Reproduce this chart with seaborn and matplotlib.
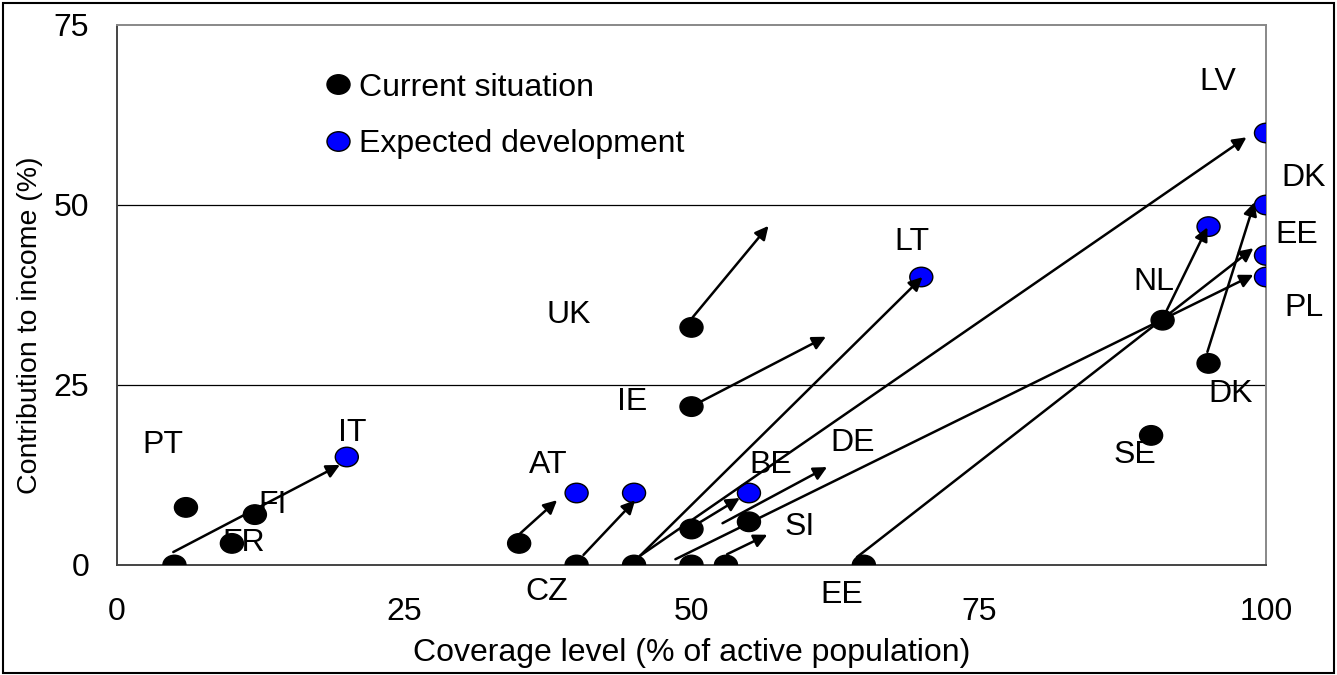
import matplotlib.pyplot as plt
import matplotlib.patches as mpatches
from matplotlib.path import Path
from matplotlib.transforms import Affine2D
import pandas as pd
import seaborn as sns

sns.set_style("white")
plt.rcParams['font.family'] = ['Liberation Sans', 'DejaVu Sans']
plt.rcParams['text.color'] = 'black'
plt.rcParams['axes.labelcolor'] = 'black'
plt.rcParams['xtick.color'] = 'black'
plt.rcParams['ytick.color'] = 'black'

# current situation (black dots)
cur_x = [5, 6, 12, 10, 35, 40, 45, 50, 53, 65, 50, 55, 50, 50, 91, 95, 90]
cur_y = [0, 8, 7, 3, 3, 0, 0, 0, 0, 0, 5, 6, 33, 22, 34, 28, 18]
# expected development (blue dots)
exp_x = [20, 40, 45, 55, 70, 95, 100, 100, 100, 100]
exp_y = [15, 10, 10, 10, 40, 47, 60, 50, 43, 40]

# arrows: start -> end
arr_x0 = [4.9, 35.1, 40.6, 45.5, 45.5, 50.6, 52.7, 48.6, 53.1, 64.4, 50.1, 50.7, 91.0, 94.9]
arr_y0 = [1.8, 4.4, 1.4, 1.25, 1.25, 5.8, 5.8, 0.8, 1.5, 1.1, 34.4, 22.6, 34.2, 29.6]
arr_x1 = [19.4, 38.3, 45.1, 70.1, 98.3, 54.2, 61.8, 98.9, 56.6, 98.9, 56.7, 61.7, 94.9, 99.0]
arr_y1 = [13.9, 9.0, 9.0, 40.0, 59.4, 9.3, 13.6, 40.3, 4.2, 44.0, 47.1, 31.7, 46.9, 50.4]

# country labels
labels = ["PT", "FI", "FR", "IT", "AT", "CZ", "UK", "IE", "BE", "DE", "SI", "EE",
          "LT", "LV", "DK", "EE", "NL", "PL", "DK", "SE"]
label_x = [4.0, 13.5, 11.0, 20.5, 37.5, 37.4, 39.3, 44.8, 56.9, 64.0, 59.4, 63.1,
           69.2, 95.8, 103.3, 102.7, 90.2, 103.3, 96.9, 88.6]
label_y = [16.7, 8.3, 3.1, 18.3, 13.9, -3.75, 34.7, 22.6, 13.9, 16.9, 5.3, -4.2,
           44.9, 67.1, 53.75, 45.8, 39.3, 35.7, 23.75, 15.3]

df = pd.DataFrame({
    "x": cur_x + exp_x,
    "y": cur_y + exp_y,
    "status": ["Current situation"] * len(cur_x) + ["Expected development"] * len(exp_x),
})

# the original is slightly stretched sideways, so dots are ellipses
circ = Path.unit_circle()
ellipse = Affine2D().scale(1.18, 1.0).transform_path(circ)

fig = plt.figure(figsize=(13.37, 6.75), dpi=100)
ax = fig.add_axes([117 / 1337, 1 - 565 / 675, 1149 / 1337, 540 / 675])

fs = 23
for yy in [25, 50]:
    ax.axhline(yy, color="black", lw=0.9, zorder=1)

sns.scatterplot(data=df, x="x", y="y", hue="status",
                palette={"Current situation": "black", "Expected development": "#0000ff"},
                marker=ellipse, s=275, edgecolor="black", linewidth=1, ax=ax, zorder=3)

for x0, y0, x1, y1 in zip(arr_x0, arr_y0, arr_x1, arr_y1):
    ax.annotate("", xy=(x1, y1), xytext=(x0, y0),
                arrowprops=dict(arrowstyle="-|>", color="black", lw=1.8,
                                mutation_scale=20, shrinkA=0, shrinkB=0),
                zorder=4)

for t, lx, ly in zip(labels, label_x, label_y):
    ax.text(lx, ly, t, fontsize=fs, ha="center", va="center", clip_on=False)

ax.set_xlim(0, 100)
ax.set_ylim(0, 75)
ax.set_xticks([0, 25, 50, 75, 100])
ax.set_yticks([0, 25, 50, 75])
ax.tick_params(axis="both", direction="out", length=7, width=1, color="#555555",
               labelsize=fs)
ax.tick_params(axis="y", pad=13)
ax.tick_params(axis="x", pad=16)
ax.spines["left"].set_color("#444444")
ax.spines["bottom"].set_color("#444444")
ax.spines["top"].set_color("#888888")
ax.spines["right"].set_color("#888888")
for sp in ax.spines.values():
    sp.set_linewidth(1.4)

ax.set_xlabel("Coverage level (% of active population)", fontsize=fs)
ax.set_ylabel("Contribution to income (%)", fontsize=20.5)
ax.xaxis.set_label_coords(0.5, -0.136)
ax.yaxis.set_label_coords(-0.064, 0.444)

leg = ax.legend(loc="upper left", bbox_to_anchor=(0.181, 0.912), frameon=False,
                fontsize=fs, handlelength=0.8, handletextpad=0.28, labelspacing=0.84,
                borderpad=0, borderaxespad=0, markerscale=1.0)

fig.patches.append(mpatches.Rectangle((3 / 1337, 2 / 675), 1331 / 1337, 670 / 675,
                                      transform=fig.transFigure, fill=False,
                                      edgecolor="black", lw=1.5))

fig.savefig("out.png", dpi=100)
